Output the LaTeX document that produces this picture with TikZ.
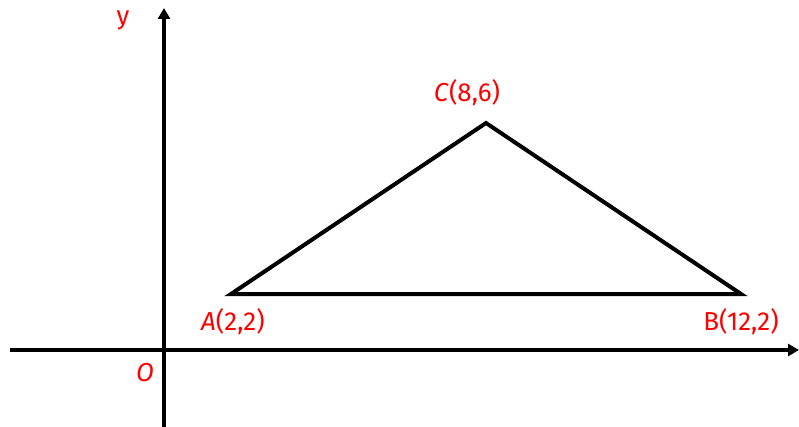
\documentclass[tikz,border=0pt]{standalone}
\usepackage{fontspec}
\setmainfont{Fira Sans}
\usetikzlibrary{arrows.meta}
\begin{document}
\begin{tikzpicture}[x=1pt,y=-1pt,
  axis/.style={line width=4.2pt,-{Triangle[length=11pt,width=12pt]}},
  tri/.style={line width=4pt,line join=miter},
  lbl/.style={text=red,font=\fontsize{26}{29}\selectfont,inner sep=0pt}]
\useasboundingbox (0,0) rectangle (799,427);
\coordinate (xs) at (10,350);
\coordinate (xe) at (799,350);
\coordinate (ys) at (164,427);
\coordinate (ye) at (164,8);
\draw[axis] (xs) -- (xe);
\draw[axis] (ys) -- (ye);
\coordinate (A) at (231,294);
\coordinate (B) at (741,294);
\coordinate (C) at (486,123);
\draw[tri] (A) -- (B) -- (C) -- cycle;
\node[lbl] (ly) at (123,20) {y};
\node[lbl] (la) at (233,322) {\textit{A}(2,2)};
\node[lbl] (lb) at (741,322) {B(12,2)};
\node[lbl] (lc) at (467,93) {\textit{C}(8,6)};
\node[lbl] (lo) at (145,373) {\textit{O}};
\end{tikzpicture}
\end{document}
